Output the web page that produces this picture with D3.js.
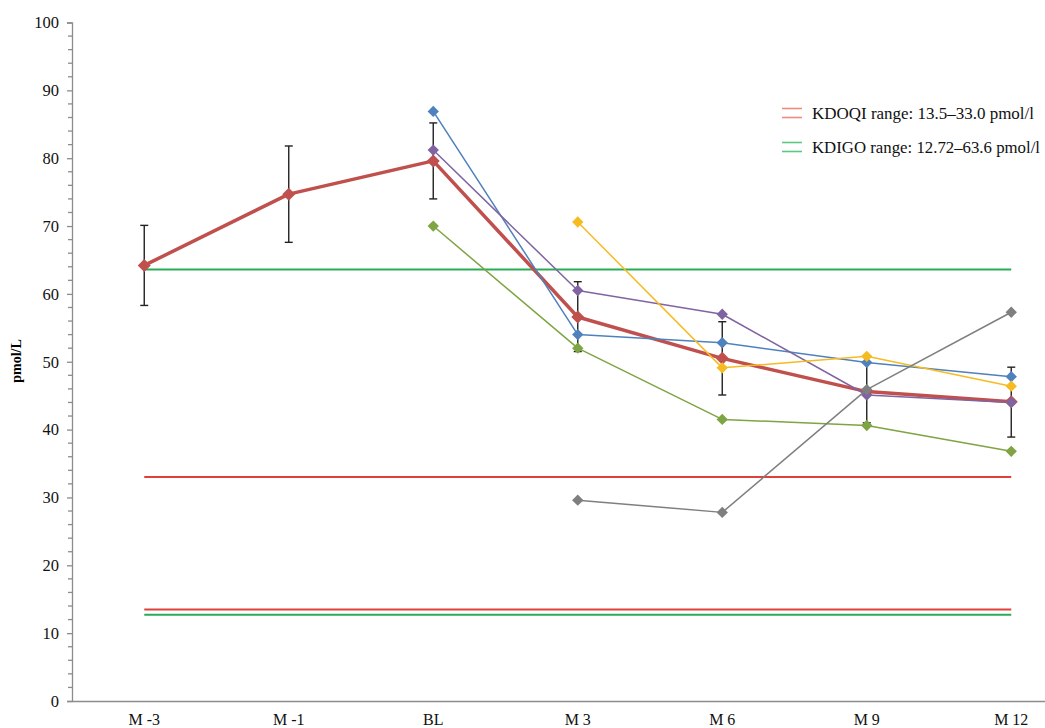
<!DOCTYPE html>
<html>
<head>
<meta charset="utf-8">
<script src="https://cdn.jsdelivr.net/npm/d3@7/dist/d3.min.js"></script>
<style>
  html, body { margin: 0; padding: 0; background: #fff; }
  svg { display: block; }
</style>
</head>
<body>
<svg id="chart" width="1045" height="728"></svg>
<script>
// Visit labels along the x axis
const visits = ["M -3", "M -1", "BL", "M 3", "M 6", "M 9", "M 12"];

// Mean PTH with error bar bounds (pmol/L)
const meanValues = [64.2, 74.7, 79.6, 56.6, 50.5, 45.6, 44.1];
const meanLower  = [58.3, 67.6, 74.0, 51.5, 45.1, 41.0, 38.9];
const meanUpper  = [70.1, 81.8, 85.2, 61.8, 55.9, 50.0, 49.2];

// Individual patient trajectories (null = no measurement)
const patientBlue   = [null, null, 86.9, 54.0, 52.8, 49.9, 47.8];
const patientPurple = [null, null, 81.2, 60.5, 57.0, 45.1, 44.0];
const patientGreen  = [null, null, 70.0, 52.0, 41.5, 40.6, 36.8];
const patientYellow = [null, null, null, 70.6, 49.1, 50.8, 46.4];
const patientGray   = [null, null, null, 29.6, 27.8, 45.9, 57.3];

// Guideline target ranges
const kdoqiRange = [13.5, 33.0];
const kdigoRange = [12.72, 63.6];
const legendLabels = ["KDOQI range: 13.5–33.0 pmol/l", "KDIGO range: 12.72–63.6 pmol/l"];

const yTicks = [0, 10, 20, 30, 40, 50, 60, 70, 80, 90, 100];

const svg = d3.select("#chart");
const font = "'Liberation Serif', 'Times New Roman', serif";

const x = d3.scaleBand().domain(visits).range([72, 72 + 7 * 144.5]).padding(0);
const cx = v => x(v) + x.bandwidth() / 2;
const y = d3.scaleLinear().domain([0, 100]).range([701, 22.5]);

// Y axis with major and minor ticks
const yAxis = d3.axisLeft(y).tickValues(yTicks).tickSize(5).tickPadding(8);
const gy = svg.append("g").attr("transform", "translate(72,0)").call(yAxis);
gy.select(".domain").attr("stroke", "#8c8c8c").attr("stroke-width", 1.3);
gy.selectAll(".tick line").attr("stroke", "#8c8c8c").attr("stroke-width", 1.3);
gy.selectAll(".tick text").attr("font-family", font).attr("font-size", 16.5).attr("fill", "#111");
gy.append("g").selectAll("line")
  .data(d3.range(0, 101, 2).filter(v => v % 10 !== 0))
  .join("line")
  .attr("x1", -4).attr("x2", 0)
  .attr("y1", d => y(d)).attr("y2", d => y(d))
  .attr("stroke", "#8c8c8c").attr("stroke-width", 1.3);

// X axis
const xAxis = d3.axisBottom(x).tickSize(0).tickPadding(13);
const gx = svg.append("g").attr("transform", "translate(0,701)").call(xAxis);
gx.select(".domain").attr("stroke", "#8c8c8c").attr("stroke-width", 1.3);
gx.selectAll(".tick text").attr("font-family", font).attr("font-size", 16).attr("fill", "#111");

// Y axis title
svg.append("text")
  .attr("transform", "translate(21,361) rotate(-90)")
  .attr("text-anchor", "middle")
  .attr("font-family", font).attr("font-size", 14).attr("font-weight", "bold")
  .text("pmol/L");

// Guideline reference lines
const x0 = cx(visits[0]), x1 = cx(visits[visits.length - 1]);
const refLines = [
  { v: kdoqiRange[0], c: "#e0403a" },
  { v: kdoqiRange[1], c: "#e0403a" },
  { v: kdigoRange[0], c: "#2aab57" },
  { v: kdigoRange[1], c: "#2aab57" }
];
svg.append("g").selectAll("line").data(refLines).join("line")
  .attr("x1", x0).attr("x2", x1)
  .attr("y1", d => y(d.v)).attr("y2", d => y(d.v))
  .attr("stroke", d => d.c).attr("stroke-width", 2);

// Mean series: error bars, thick line, markers
const meanData = visits.map((v, i) => ({ v, m: meanValues[i], lo: meanLower[i], hi: meanUpper[i] }));
const eb = svg.append("g").attr("stroke", "#222").attr("stroke-width", 1.4);
meanData.forEach(d => {
  const px = cx(d.v);
  eb.append("line").attr("x1", px).attr("x2", px).attr("y1", y(d.lo)).attr("y2", y(d.hi));
  eb.append("line").attr("x1", px - 4).attr("x2", px + 4).attr("y1", y(d.lo)).attr("y2", y(d.lo));
  eb.append("line").attr("x1", px - 4).attr("x2", px + 4).attr("y1", y(d.hi)).attr("y2", y(d.hi));
});

const line = d3.line().defined(d => d.val != null).x(d => cx(d.v)).y(d => y(d.val));
const diamond = size => d3.symbol().type(d3.symbolSquare).size(size);

function drawSeries(values, color, width, markerSize) {
  const data = visits.map((v, i) => ({ v, val: values[i] }));
  const g = svg.append("g");
  g.append("path").datum(data).attr("d", line)
    .attr("fill", "none").attr("stroke", color).attr("stroke-width", width)
    .attr("stroke-linejoin", "round");
  g.selectAll("path.mk").data(data.filter(d => d.val != null)).join("path")
    .attr("class", "mk")
    .attr("d", diamond(markerSize))
    .attr("transform", d => `translate(${cx(d.v)},${y(d.val)}) rotate(45)`)
    .attr("fill", color);
}

drawSeries(meanValues, "#c0504d", 3.5, 85);
drawSeries(patientBlue, "#4f81bd", 1.5, 64);
drawSeries(patientPurple, "#8064a2", 1.5, 64);
drawSeries(patientGreen, "#7fa443", 1.5, 64);
drawSeries(patientYellow, "#f7bb22", 1.5, 64);
drawSeries(patientGray, "#7f7f7f", 1.5, 64);

// Legend
const legend = svg.append("g");
const legendItems = [
  { label: legendLabels[0], c: "#ee8a80", y: 113, w: 222 },
  { label: legendLabels[1], c: "#5cc884", y: 147, w: 228 }
];
legendItems.forEach(d => {
  [-4.5, 4.5].forEach(off => {
    legend.append("line")
      .attr("x1", 782).attr("x2", 802)
      .attr("y1", d.y + off).attr("y2", d.y + off)
      .attr("stroke", d.c).attr("stroke-width", 1.6);
  });
  legend.append("text")
    .attr("x", 812).attr("y", d.y).attr("dy", "0.35em")
    .attr("font-family", font).attr("font-size", 17)
    .attr("textLength", d.w).attr("lengthAdjust", "spacingAndGlyphs")
    .attr("fill", "#111")
    .text(d.label);
});
</script>
</body>
</html>
